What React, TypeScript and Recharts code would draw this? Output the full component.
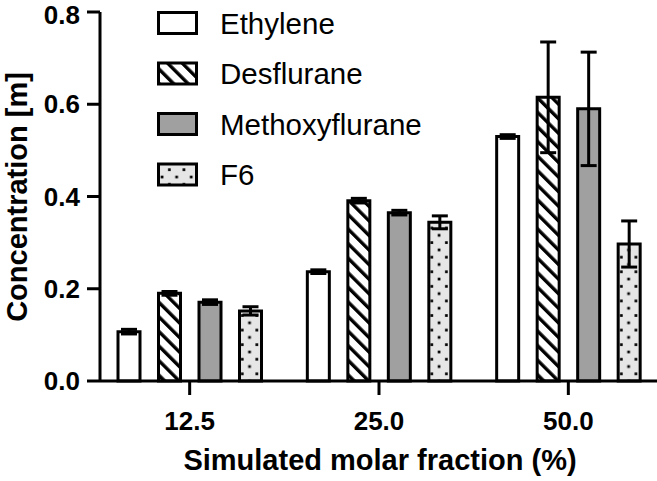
import React from 'react';
import { BarChart, Bar, XAxis, YAxis, ErrorBar } from 'recharts';

const CATEGORIES = ['12.5', '25.0', '50.0'];

const ETHYLENE = [0.107, 0.237, 0.53];
const ETHYLENE_ERR = [0.005, 0.004, 0.004];
const DESFLURANE = [0.19, 0.391, 0.615];
const DESFLURANE_ERR = [0.004, 0.005, 0.12];
const METHOXYFLURANE = [0.171, 0.365, 0.59];
const METHOXYFLURANE_ERR = [0.005, 0.005, 0.123];
const F6 = [0.152, 0.344, 0.297];
const F6_ERR = [0.009, 0.014, 0.05];

const Y_TICKS = [0, 0.2, 0.4, 0.6, 0.8];

const FONT = '"Liberation Sans", Arial, sans-serif';

// one entry per series: key, legend name, fill
const SERIES = [
  { key: 'ethylene', name: 'Ethylene', fill: '#ffffff' },
  { key: 'desflurane', name: 'Desflurane', fill: 'url(#hatch)' },
  { key: 'methoxyflurane', name: 'Methoxyflurane', fill: '#a0a0a0' },
  { key: 'f6', name: 'F6', fill: 'url(#dots)' },
];

const data = CATEGORIES.map((c, i) => ({
  cat: c,
  ethylene: ETHYLENE[i],
  ethyleneErr: ETHYLENE_ERR[i],
  desflurane: DESFLURANE[i],
  desfluraneErr: DESFLURANE_ERR[i],
  methoxyflurane: METHOXYFLURANE[i],
  methoxyfluraneErr: METHOXYFLURANE_ERR[i],
  f6: F6[i],
  f6Err: F6_ERR[i],
}));

const P = 14.58; // pattern period, lines up with the group spacing

function Patterns() {
  return (
    <svg width={0} height={0} style={{ position: 'absolute' }}>
      <defs>
        <pattern
          id="hatch"
          patternUnits="userSpaceOnUse"
          width={P / Math.SQRT2}
          height={P / Math.SQRT2}
          patternTransform="rotate(-45)"
        >
          <rect width={P / Math.SQRT2} height={P / Math.SQRT2} fill="#fff" />
          <rect x={0} width={3.4} height={P / Math.SQRT2} fill="#000" />
        </pattern>
        <pattern id="dots" patternUnits="userSpaceOnUse" x={1.64} y={2} width={P} height={P}>
          <rect width={P} height={P} fill="#e6e6e6" />
          <rect x={-1.3} y={-1.3} width={2.7} height={2.7} fill="#000" />
          <rect x={P - 1.3} y={-1.3} width={2.7} height={2.7} fill="#000" />
          <rect x={-1.3} y={P - 1.3} width={2.7} height={2.7} fill="#000" />
          <rect x={P - 1.3} y={P - 1.3} width={2.7} height={2.7} fill="#000" />
          <rect x={P / 2 - 1.3} y={P / 2 - 1.3} width={2.7} height={2.7} fill="#000" />
        </pattern>
      </defs>
    </svg>
  );
}

function Overlay() {
  return (
    <svg
      width={657}
      height={481}
      style={{ position: 'absolute', left: 0, top: 0, pointerEvents: 'none' }}
    >
      {SERIES.map((s, i) => {
        const cy = 23 + i * 50.5;
        return (
          <g key={s.key}>
            <rect x={158.5} y={cy - 10.5} width={38} height={21} fill={s.fill} stroke="#000" strokeWidth={3} />
            <text x={220} y={cy} dominantBaseline="central" fontSize={29.5} fontFamily={FONT} fill="#000">
              {s.name}
            </text>
          </g>
        );
      })}
      <text x={380} y={470} textAnchor="middle" fontSize={29} fontWeight={700} fontFamily={FONT} fill="#000">
        Simulated molar fraction (%)
      </text>
      <text
        x={27}
        y={197}
        transform="rotate(-90, 27, 197)"
        textAnchor="middle"
        fontSize={29}
        fontWeight={700}
        fontFamily={FONT}
        fill="#000"
      >
        Concentration [m]
      </text>
    </svg>
  );
}

export default function App() {
  return (
    <div style={{ position: 'absolute', left: 0, top: 0, width: 657, height: 481, background: '#fff' }}>
      <Patterns />
      <BarChart
        width={657}
        height={481}
        data={data}
        margin={{ top: 12, right: 0, left: 0, bottom: 0 }}
        barSize={22}
        barGap={18.5}
      >
        <XAxis
          dataKey="cat"
          height={100}
          padding={{ left: -5, right: -6 }}
          axisLine={{ stroke: '#000', strokeWidth: 3 }}
          tickLine={{ stroke: '#000', strokeWidth: 3 }}
          tickSize={14}
          tickMargin={17}
          tick={{ fill: '#000', fontSize: 26, fontWeight: 700, fontFamily: FONT }}
        />
        <YAxis
          width={100}
          domain={[0, 0.8]}
          ticks={Y_TICKS}
          tickFormatter={(v: number) => v.toFixed(1)}
          axisLine={{ stroke: '#000', strokeWidth: 3 }}
          tickLine={{ stroke: '#000', strokeWidth: 3 }}
          tickSize={13}
          tickMargin={7}
          tick={{ fill: '#000', fontSize: 26, fontWeight: 700, fontFamily: FONT }}
        />
        {SERIES.map((s) => (
          <Bar
            key={s.key}
            dataKey={s.key}
            name={s.name}
            fill={s.fill}
            stroke="#000"
            strokeWidth={3}
            isAnimationActive={false}
          >
            <ErrorBar dataKey={`${s.key}Err`} width={8} stroke="#000" strokeWidth={3} />
          </Bar>
        ))}
      </BarChart>
      <Overlay />
    </div>
  );
}
